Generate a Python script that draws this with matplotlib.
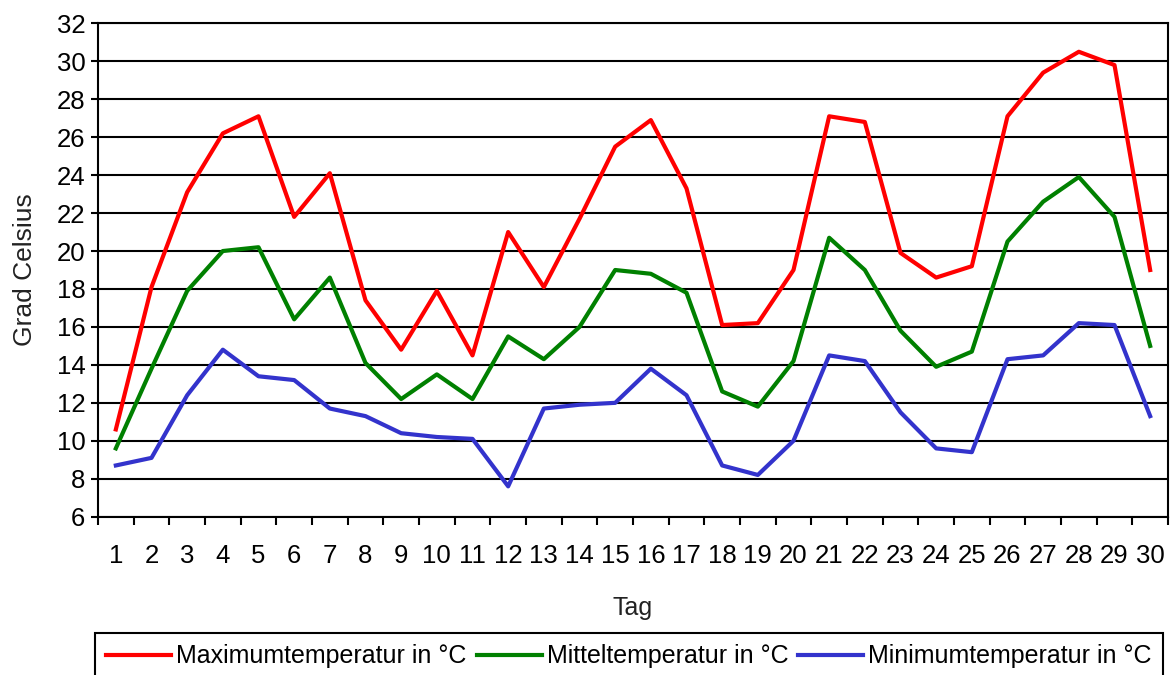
import numpy as np
import matplotlib
matplotlib.use("Agg")
import matplotlib.pyplot as plt
from matplotlib.ticker import FixedLocator

plt.rcParams['font.family'] = ['Liberation Sans', 'DejaVu Sans']

tage = list(range(1, 31))
max_temp = [10.6, 18.1, 23.1, 26.2, 27.1, 21.8, 24.1, 17.4, 14.8, 17.9,
            14.5, 21.0, 18.1, 21.7, 25.5, 26.9, 23.3, 16.1, 16.2, 19.0,
            27.1, 26.8, 19.9, 18.6, 19.2, 27.1, 29.4, 30.5, 29.8, 19.0]
mittel_temp = [9.6, 13.8, 17.9, 20.0, 20.2, 16.4, 18.6, 14.1, 12.2, 13.5,
               12.2, 15.5, 14.3, 16.0, 19.0, 18.8, 17.8, 12.6, 11.8, 14.2,
               20.7, 19.0, 15.8, 13.9, 14.7, 20.5, 22.6, 23.9, 21.8, 15.0]
min_temp = [8.7, 9.1, 12.4, 14.8, 13.4, 13.2, 11.7, 11.3, 10.4, 10.2,
            10.1, 7.6, 11.7, 11.9, 12.0, 13.8, 12.4, 8.7, 8.2, 10.0,
            14.5, 14.2, 11.5, 9.6, 9.4, 14.3, 14.5, 16.2, 16.1, 11.3]
y_ticks = list(range(6, 33, 2))

W, H = 1173, 675
fig = plt.figure(figsize=(W / 100, H / 100), dpi=100)
ax = fig.add_axes([98 / W, 1 - 516.7 / H, 1070 / W, 493.4 / H])

ax.plot(tage, max_temp, color='#ff0000', lw=3, label="Maximumtemperatur in °C")
ax.plot(tage, mittel_temp, color='#008000', lw=3, label="Mitteltemperatur in °C")
ax.plot(tage, min_temp, color='#3333cc', lw=3, label="Minimumtemperatur in °C")

ax.set_xlim(0.5, 30.5)
ax.set_ylim(6, 32)
ax.set_yticks(y_ticks)
ax.set_xticks(tage)
ax.xaxis.set_minor_locator(FixedLocator(np.arange(0.5, 31, 1)))
ax.tick_params(axis='x', which='major', length=0, pad=20, labelsize=18.5)
ax.tick_params(axis='x', which='minor', length=6, width=1.5, direction='out')
ax.tick_params(axis='y', which='major', length=5, width=1.5, direction='out',
               labelsize=18.5, pad=4)
ax.grid(axis='y', color='black', lw=1.5)
ax.set_axisbelow(True)
for s in ax.spines.values():
    s.set_linewidth(1.5)
    s.set_color('black')

ax.set_xlabel("Tag", fontsize=18, labelpad=20, color='#222222')
ax.set_ylabel("Grad Celsius", fontsize=19, labelpad=14, color='#222222')

leg = fig.legend(loc='upper center', bbox_to_anchor=(629 / W, 1 - 633 / H),
                 ncol=3, fontsize=18, handlelength=2.6, handletextpad=0.2,
                 columnspacing=0.4, borderpad=0.45, borderaxespad=0,
                 fancybox=False, edgecolor='black', framealpha=1)
leg.get_frame().set_linewidth(1.5)

fig.savefig("out.png", dpi=100)
